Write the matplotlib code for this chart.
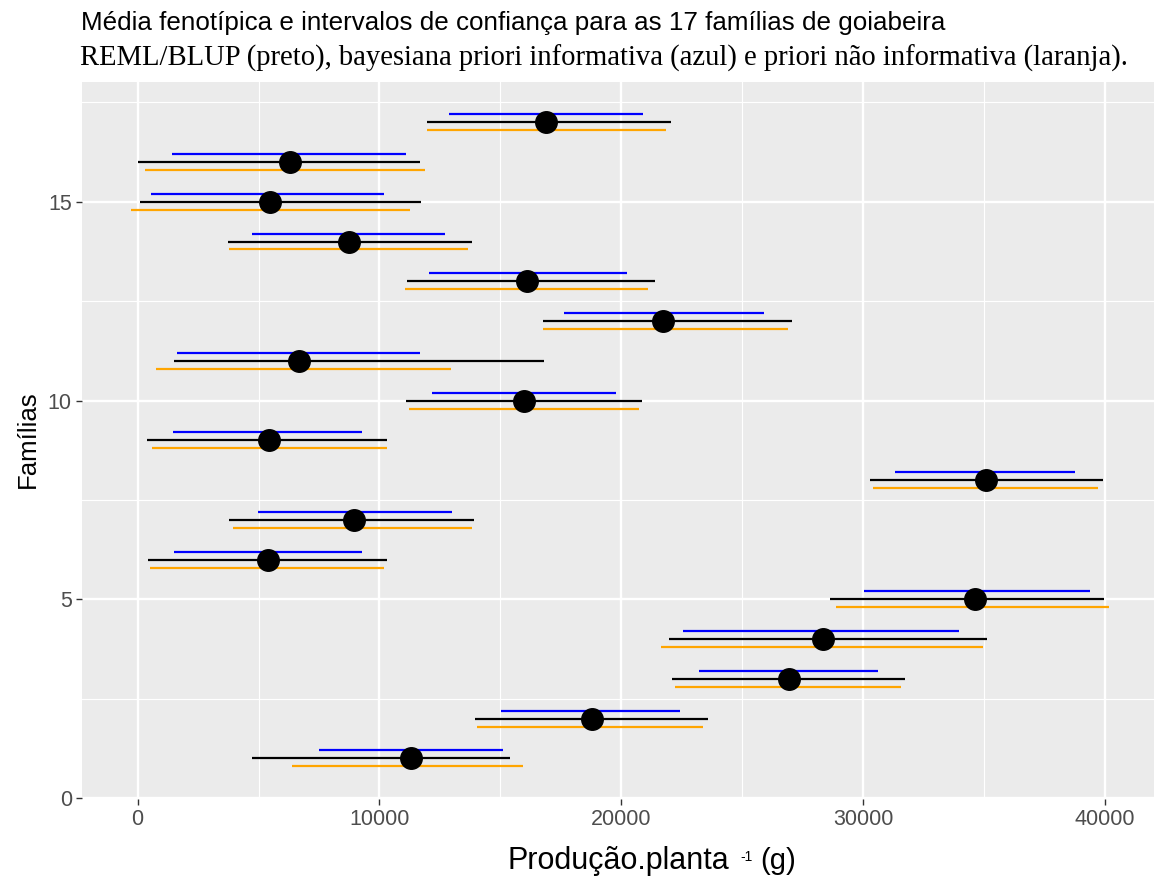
import matplotlib
matplotlib.use("Agg")
import matplotlib.pyplot as plt
from matplotlib.ticker import MultipleLocator
import numpy as np

# ---------------- data ----------------
familias = np.arange(1, 18)
media = [11295, 18770, 26930, 28348, 34635, 5379, 8938, 35088, 5426,
         15994, 6660, 21740, 16105, 8748, 5458, 6296, 16880]

# REML/BLUP (preto)
reml_inf = [4714, 13950, 22105, 21974, 28611, 411, 3781, 30263, 380,
            11090, 1487, 16753, 11121, 3749, 79, 16, 11944]
reml_sup = [15377, 23570, 31740, 35117, 39942, 10330, 13890, 39912, 10299,
            20851, 16801, 27047, 21404, 13811, 11723, 11675, 22037]

# bayesiana priori informativa (azul)
inf_inf = [7515, 15008, 23202, 22559, 30015, 1503, 4983, 31301, 1455,
           12181, 1645, 17639, 12039, 4714, 570, 1440, 12878]
inf_sup = [15092, 22434, 30629, 33977, 39357, 9271, 12988, 38743, 9271,
           19775, 11659, 25892, 20250, 12703, 10188, 11090, 20898]

# bayesiana priori nao informativa (laranja)
ninf_inf = [6391, 14015, 22208, 21652, 28860, 522, 3939, 30409, 585,
            11232, 775, 16753, 11058, 3781, -285, 300, 11960]
ninf_sup = [15915, 23357, 31564, 34942, 40146, 10204, 13811, 39708, 10299,
            20724, 12957, 26886, 21120, 13668, 11248, 11865, 21847]

titulo1 = "Média fenotípica e intervalos de confiança para as 17 famílias de goiabeira"
titulo2 = "REML/BLUP (preto), bayesiana priori informativa (azul) e priori não informativa (laranja)."
xlabel_main = "Produção.planta"
xlabel_sup = "-1"
xlabel_unit = "(g)"
ylabel = "Famílias"

# ---------------- style ----------------
plt.rcParams['font.family'] = ['Liberation Sans', 'DejaVu Sans']

W, H = 1154, 877
fig = plt.figure(figsize=(W / 100, H / 100), dpi=100)
fig.patch.set_facecolor('white')

def fx(px):
    return px / W

def fy(py):
    return 1 - py / H

left, right, top, bottom = 81.8, 1157.6, 81.7, 799.0
ax = fig.add_axes([fx(left), fy(bottom), (right - left) / W, (bottom - top) / H])
ax.set_facecolor('#EBEBEB')
for s in ax.spines.values():
    s.set_visible(False)

off = 0.2
lw = 1.6
ax.hlines(familias + off, inf_inf, inf_sup, color='blue', lw=lw, capstyle='butt', zorder=3)
ax.hlines(familias, reml_inf, reml_sup, color='black', lw=lw, capstyle='butt', zorder=3)
ax.hlines(familias - off, ninf_inf, ninf_sup, color='orange', lw=lw, capstyle='butt', zorder=3)
ax.plot(media, familias, 'o', color='black', ms=15.5, zorder=4)

ax.set_xlim(-2307, 42168)
ax.set_ylim(-0.02, 18.02)
ax.xaxis.set_major_locator(MultipleLocator(10000))
ax.xaxis.set_minor_locator(MultipleLocator(5000))
ax.yaxis.set_major_locator(MultipleLocator(5))
ax.yaxis.set_minor_locator(MultipleLocator(2.5))
ax.grid(which='major', color='white', lw=1.7)
ax.grid(which='minor', color='white', lw=0.85)
ax.set_axisbelow(True)
ax.tick_params(which='minor', length=0)
ax.tick_params(which='major', length=4.2, width=1.0, color='#333333',
               labelcolor='#4D4D4D', labelsize=15.5, pad=3)

fig.text(fx(81), fy(30), titulo1, fontsize=18.7, color='black',
         ha='left', va='baseline', family=['Liberation Sans'])
fig.text(fx(80), fy(66), titulo2, fontsize=20.6, color='black',
         ha='left', va='baseline', family=['Liberation Serif'])

fig.text(fx(507), fy(869), xlabel_main, fontsize=22, color='black',
         ha='left', va='baseline')
fig.text(fx(740), fy(861), xlabel_sup, fontsize=10, color='black',
         ha='left', va='baseline')
fig.text(fx(760), fy(869), xlabel_unit, fontsize=21, color='black',
         ha='left', va='baseline')
fig.text(fx(28), fy(439), ylabel, fontsize=18.5, color='black',
         ha='center', va='center', rotation=90)

fig.savefig('out.png', dpi=100)
